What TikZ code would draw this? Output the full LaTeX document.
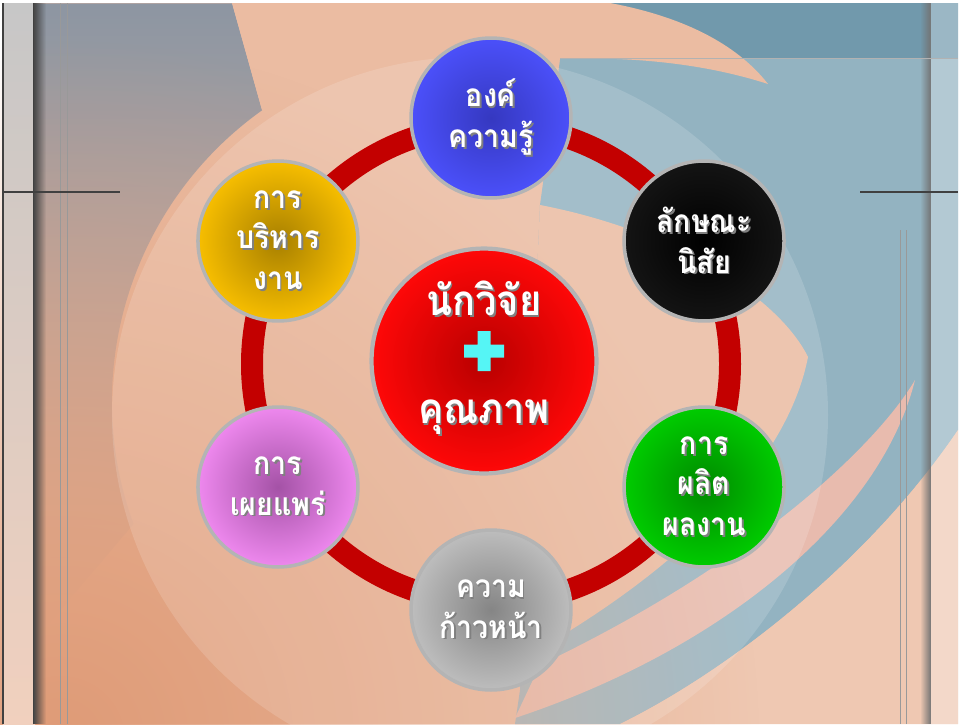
\documentclass[tikz,border=0pt]{standalone}
\usepackage{fontspec}
\usetikzlibrary{calc, fadings}
\newfontfamily\thaifont[Script=Thai, FakeStretch=0.9]{Loma}
\definecolor{peachbase}{HTML}{EBBCA2}
\definecolor{peachbot}{HTML}{DF9B77}
\definecolor{peachlite}{HTML}{EFC8B2}
\definecolor{peachpink}{HTML}{E8BBAE}
\definecolor{grayblue}{HTML}{8D96A3}
\definecolor{seablue}{HTML}{93B3C1}
\definecolor{seadeep}{HTML}{7199AC}
\definecolor{ringred}{HTML}{C30000}
\definecolor{rimgray}{HTML}{B4B4B4}
\definecolor{pluscyan}{HTML}{55F5F5}
\definecolor{redin}{HTML}{B80000}
\definecolor{redout}{HTML}{FF0808}
\definecolor{bluein}{HTML}{3538C0}
\definecolor{blueout}{HTML}{4B50FA}
\definecolor{blackin}{HTML}{000000}
\definecolor{blackout}{HTML}{141414}
\definecolor{greenin}{HTML}{008A00}
\definecolor{greenout}{HTML}{00CC00}
\definecolor{grayin}{HTML}{858585}
\definecolor{grayout}{HTML}{BDBDBD}
\definecolor{pinkin}{HTML}{A452A6}
\definecolor{pinkout}{HTML}{EE88EE}
\definecolor{goldin}{HTML}{A88000}
\definecolor{goldout}{HTML}{F7BE00}
\tikzfading[name=softspot, inner color=transparent!0, outer color=transparent!100]
\newcommand{\shtxt}[1]{\makebox[0pt][l]{\kern1pt\raisebox{-1pt}{\textcolor{black!50}{#1}}}#1}

\begin{document}
\begin{tikzpicture}[
        x=0.02cm, y=-0.02cm,
        topic/.style 2 args={circle, minimum size=3.2cm, inner sep=0pt,
                     draw=rimgray, line width=2pt, inner color=#1, outer color=#2,
                     text=white, align=center,
                     font=\thaifont\bfseries\fontsize{18}{23}\selectfont},
        core/.style={circle, minimum size=4.5cm, draw=rimgray, line width=2.4pt,
                     inner color=redin, outer color=redout},
        coretext/.style={text=white, inner sep=0pt,
                     font=\thaifont\bfseries\fontsize{24}{30}\selectfont},
        ring/.style={draw=ringred, line width=0.44cm},
        frameline/.style={black!40, line width=0.4pt},
        edgeline/.style={black!75, line width=0.9pt},
    ]
    \useasboundingbox (0,0) rectangle (960,724);

    % ===== Background =====
    \fill[white] (0,0) rectangle (960,724);
    \fill[peachbase] (3,3) rectangle (958,724);

    % blue sea on the right
    \fill[seablue] (575,3) -- (958,3) -- (958,430)
        .. controls (870,560) and (730,670) .. (620,724)
        -- (515,724) -- (520,690) -- (540,205) -- (560,60) -- cycle;
    \fill[seadeep] (575,3) rectangle (958,58);
    \fill[peachlite] (958,430) .. controls (870,560) and (730,670) .. (620,724)
        -- (958,724) -- cycle;

    % grey wash on the left, up to the pale disc
    \fill[grayblue, path fading=south] (35,3) -- (232,3) -- (262,110)
        arc[start angle=-125.5, end angle=-200, radius=358] -- (35,640) -- cycle;

    % peach swirls
    \fill[peachbase] (232,3) -- (610,3) .. controls (690,18) and (740,48) .. (768,84)
        .. controls (700,62) and (620,55) .. (540,60) -- (262,110) -- cycle;
    \fill[peachbase] (540,205) .. controls (680,232) and (780,300) .. (808,357)
        .. controls (790,450) and (700,560) .. (520,660) -- cycle;
    \fill[peachpink] (915,380) .. controls (880,440) and (760,560) .. (540,665)
        -- (515,718) .. controls (720,650) and (880,520) .. cycle;
    \fill[peachbot, path fading=softspot] (60,740) circle (700);

    % pale disc
    \fill[white, fill opacity=0.15] (470,415) circle (358);

    % ===== Frame =====
    \fill[top color=black!22, bottom color=peachbase!70!white] (3,3) rectangle (35,724);
    \fill[black!75, path fading=east] (33,3) rectangle (46,724);
    \fill[white, fill opacity=0.3] (930,3) rectangle (958,724);
    \fill[black!55, path fading=west] (920,3) rectangle (931,724);
    \draw[edgeline] (3,3) -- (3,724);
    \foreach \xx in {60,67} { \draw[frameline] (\xx,3) -- (\xx,724); }
    \foreach \xx in {900,906} { \draw[frameline] (\xx,230) -- (\xx,724); }
    \draw[edgeline] (3,192) -- (120,192);
    \draw[edgeline] (860,192) -- (958,192);
    \draw[black!30] (560,58) -- (958,58);

    % ===== Ring and topics =====
    \coordinate (ringC) at (491,364);
    \draw[ring] (ringC) circle (239);

    \node[topic={bluein}{blueout}]   (know)  at ($(ringC)+(-90:246)$) {\shtxt{องค์}\\\shtxt{ความรู้}};
    \node[topic={blackin}{blackout}] (trait) at ($(ringC)+(-30:246)$) {\shtxt{ลักษณะ}\\\shtxt{นิสัย}};
    \node[topic={greenin}{greenout}] (prod)  at ($(ringC)+(30:246)$)  {\shtxt{การ}\\\shtxt{ผลิต}\\\shtxt{ผลงาน}};
    \node[topic={grayin}{grayout}]   (prog)  at ($(ringC)+(90:246)$)  {\shtxt{ความ}\\\shtxt{ก้าวหน้า}};
    \node[topic={pinkin}{pinkout}]   (pub)   at ($(ringC)+(150:246)$) {\shtxt{การ}\\\shtxt{เผยแพร่}};
    \node[topic={goldin}{goldout}]   (mgmt)  at ($(ringC)+(210:246)$) {\shtxt{การ}\\\shtxt{บริหาร}\\\shtxt{งาน}};

    % ===== Centre =====
    \node[core] (hub) at (484,361) {};
    \node[coretext] (hubtop) at ($(hub)+(0,-62)$) {\shtxt{นักวิจัย}};
    \node[coretext] (hubbot) at ($(hub)+(0,57)$)  {\shtxt{คุณภาพ}};
    \coordinate (plusC) at ($(hub)+(0,-10)$);
    \fill[pluscyan] ($(plusC)+(-20,-6.5)$) rectangle ($(plusC)+(20,6.5)$)
                    ($(plusC)+(-6.5,-20)$) rectangle ($(plusC)+(6.5,20)$);

\end{tikzpicture}
\end{document}
